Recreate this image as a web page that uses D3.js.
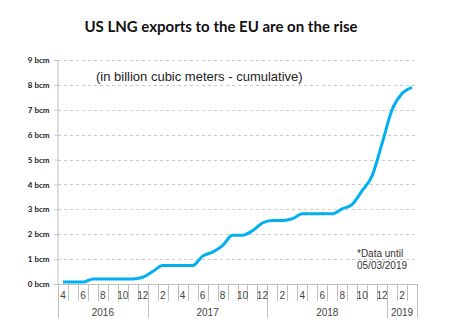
<!DOCTYPE html>
<html>
<head>
<meta charset="utf-8">
<script src="https://cdn.jsdelivr.net/npm/d3@7"></script>
<style>
  body { margin: 0; background: #fff; }
  svg { display: block; }
</style>
</head>
<body>
<svg id="chart" width="450" height="334"></svg>
<script>
// months from Apr 2016 to Mar 2019
const months = [
  "2016-04", "2016-05", "2016-06", "2016-07", "2016-08", "2016-09", "2016-10", "2016-11", "2016-12",
  "2017-01", "2017-02", "2017-03", "2017-04", "2017-05", "2017-06", "2017-07", "2017-08", "2017-09", "2017-10", "2017-11", "2017-12",
  "2018-01", "2018-02", "2018-03", "2018-04", "2018-05", "2018-06", "2018-07", "2018-08", "2018-09", "2018-10", "2018-11", "2018-12",
  "2019-01", "2019-02", "2019-03"
];
// cumulative exports, bcm
const exportsBcm = [
  0.08, 0.08, 0.08, 0.2, 0.2, 0.2, 0.2, 0.2, 0.27,
  0.5, 0.74, 0.74, 0.74, 0.74, 1.12, 1.28, 1.54, 1.96, 1.96, 2.14, 2.45,
  2.55, 2.55, 2.62, 2.82, 2.82, 2.82, 2.82, 3.02, 3.2, 3.75, 4.35, 5.65,
  7.0, 7.65, 7.9
];
const years = ["2016", "2017", "2018", "2019"];
const yTicks = [0, 1, 2, 3, 4, 5, 6, 7, 8, 9];

const margin = { left: 58, right: 33, top: 60, bottom: 50 };
const width = 450, height = 334;

const svg = d3.select("#chart");

const x = d3.scaleBand()
  .domain(months)
  .range([margin.left, width - margin.right])
  .padding(0);

const y = d3.scaleLinear()
  .domain([0, 9])
  .range([height - margin.bottom, margin.top]);

// title
svg.append("text")
  .attr("x", 221)
  .attr("y", 32)
  .attr("text-anchor", "middle")
  .style("font-family", "Lato, 'Open Sans', sans-serif")
  .style("font-weight", "bold")
  .style("font-size", "15px")
  .style("fill", "#111")
  .text("US LNG exports to the EU are on the rise");

// gridlines
svg.append("g")
  .selectAll("line")
  .data(yTicks.filter((d) => d > 0))
  .join("line")
  .attr("x1", margin.left)
  .attr("x2", width - margin.right)
  .attr("y1", (d) => Math.round(y(d)) + 0.5)
  .attr("y2", (d) => Math.round(y(d)) + 0.5)
  .attr("stroke", "#c8c8c8")
  .attr("stroke-dasharray", "3,3");

// y axis
const yAxis = d3.axisLeft(y)
  .tickValues(yTicks)
  .tickSize(3)
  .tickFormat((d) => d + " bcm");

svg.append("g")
  .attr("transform", `translate(${margin.left - 0.5},0)`)
  .call(yAxis)
  .call((g) => g.select(".domain").attr("stroke", "#bfbfbf"))
  .call((g) => g.selectAll(".tick line").attr("stroke", "#bfbfbf"))
  .call((g) => g.selectAll(".tick text")
    .attr("x", -8)
    .style("font-family", "Lato, sans-serif")
    .style("font-weight", "bold")
    .style("font-size", "8px")
    .style("fill", "#222"));

// x axis: month separators + labels
const x0 = height - margin.bottom;
const gx = svg.append("g");

gx.append("line")
  .attr("x1", margin.left)
  .attr("x2", width - margin.right)
  .attr("y1", x0 + 0.5)
  .attr("y2", x0 + 0.5)
  .attr("stroke", "#bfbfbf");

const monthNum = (m) => +m.split("-")[1];
const isYearStart = (m, i) => i === 0 || monthNum(m) === 1;

gx.selectAll(".msep")
  .data(months.concat(["end"]))
  .join("line")
  .attr("class", "msep")
  .attr("x1", (d, i) => Math.round(margin.left + i * x.bandwidth()) + 0.5)
  .attr("x2", (d, i) => Math.round(margin.left + i * x.bandwidth()) + 0.5)
  .attr("y1", x0)
  .attr("y2", (d, i) => (d === "end" || isYearStart(d, i)) ? x0 + 34 : x0 + 17)
  .attr("stroke", "#bfbfbf");

gx.selectAll(".mlab")
  .data(months.filter((d, i) => i % 2 === 0))
  .join("text")
  .attr("class", "mlab")
  .attr("x", (d) => x(d) + x.bandwidth() / 2)
  .attr("y", x0 + 15)
  .attr("text-anchor", "middle")
  .style("font-family", "'Liberation Sans', Arial, sans-serif")
  .style("font-size", "10px")
  .style("fill", "#444")
  .text((d) => monthNum(d));

gx.selectAll(".ylab")
  .data(years)
  .join("text")
  .attr("class", "ylab")
  .attr("x", (yr) => {
    const ms = months.filter((m) => m.startsWith(yr));
    return (x(ms[0]) + x(ms[ms.length - 1]) + x.bandwidth()) / 2;
  })
  .attr("y", x0 + 32)
  .attr("text-anchor", "middle")
  .style("font-family", "'Liberation Sans', Arial, sans-serif")
  .style("font-size", "10px")
  .style("fill", "#444")
  .text((d) => d);

// the line
const line = d3.line()
  .x((d, i) => x(months[i]) + x.bandwidth() / 2)
  .y((d) => y(d))
  .curve(d3.curveMonotoneX);

svg.append("path")
  .datum(exportsBcm)
  .attr("fill", "none")
  .attr("stroke", "#00b0f0")
  .attr("stroke-width", 3)
  .attr("stroke-linejoin", "round")
  .attr("d", line);

// subtitle
svg.append("text")
  .attr("x", 96)
  .attr("y", 81)
  .style("font-family", "'Liberation Sans', Arial, sans-serif")
  .style("font-size", "13px")
  .style("fill", "#222")
  .text("(in billion cubic meters - cumulative)");

// note
const note = svg.append("text")
  .attr("x", 357)
  .attr("y", 257)
  .style("font-family", "'Liberation Sans', Arial, sans-serif")
  .style("font-size", "10px")
  .style("fill", "#333");
note.append("tspan").attr("x", 357).text("*Data until");
note.append("tspan").attr("x", 357).attr("dy", 12).text("05/03/2019");
</script>
</body>
</html>
